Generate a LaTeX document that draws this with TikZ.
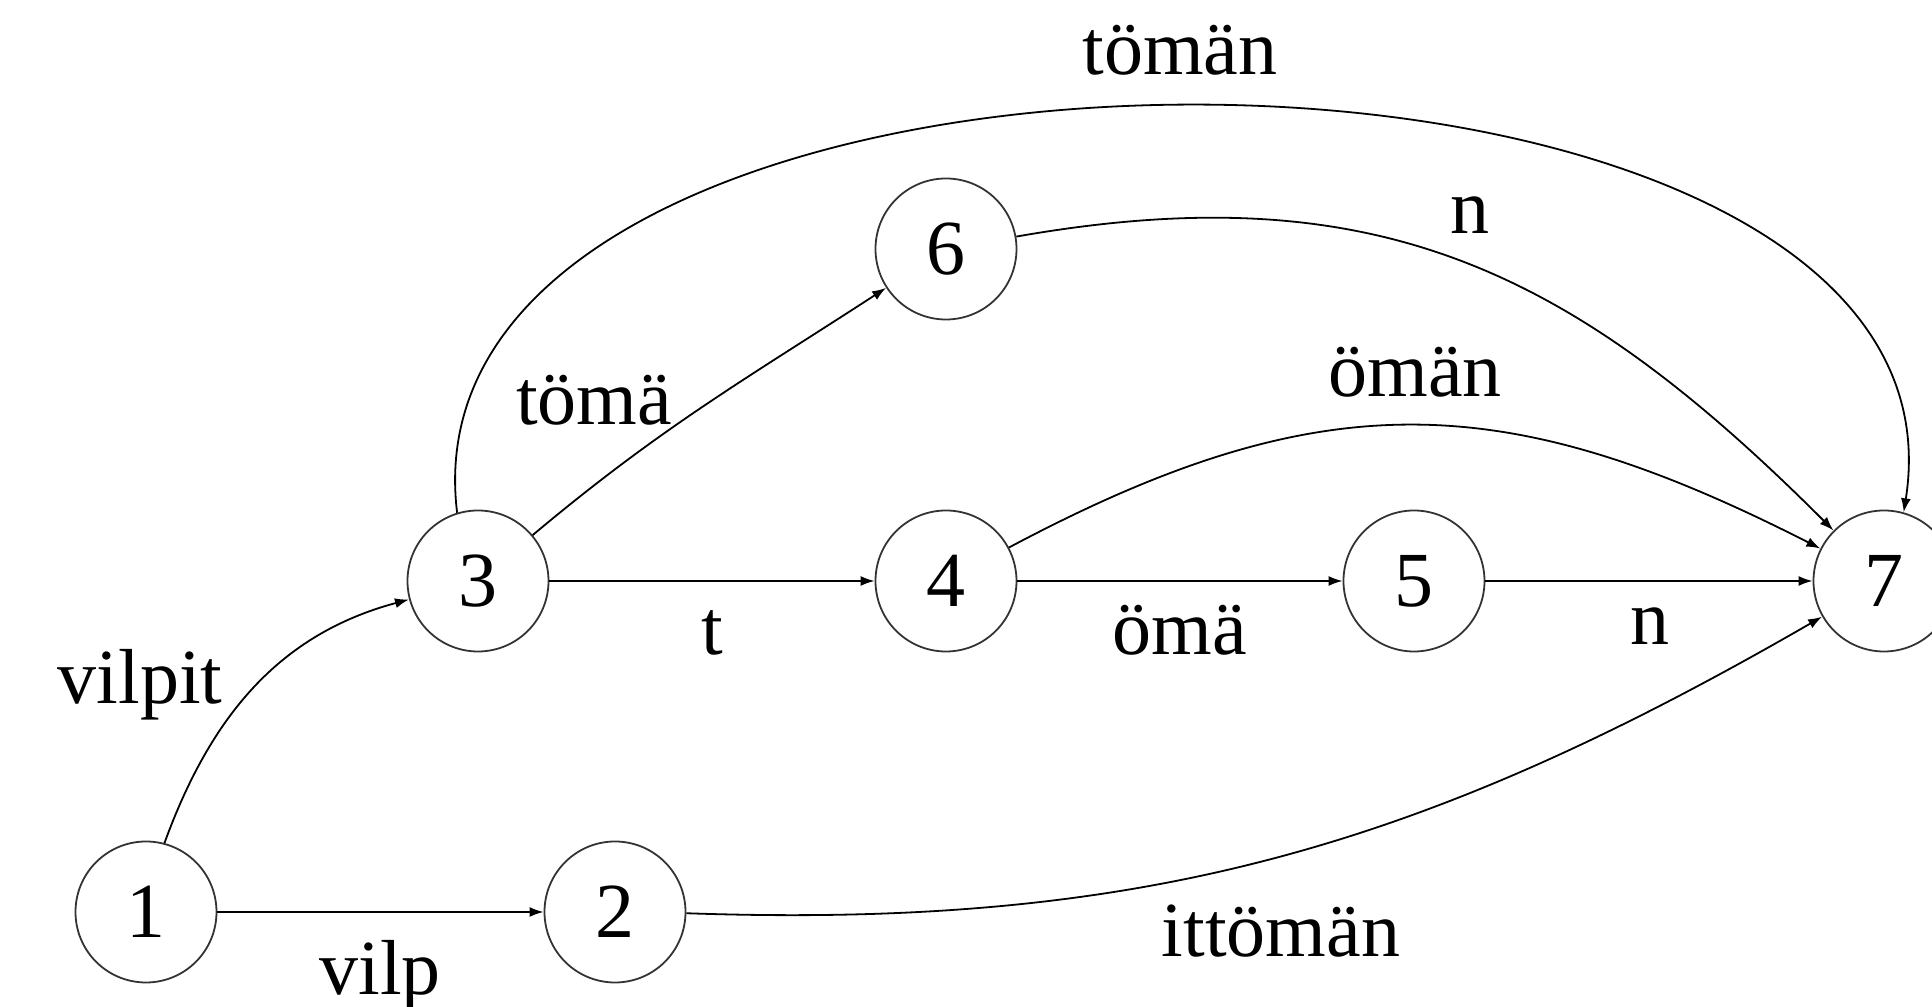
\documentclass[tikz,border=0pt]{standalone}
\usepackage{fontspec}
\setmainfont{Liberation Serif}
\usetikzlibrary{arrows.meta}
\begin{document}
\begin{tikzpicture}[x=0.25pt,y=0.25pt,
  state/.style={circle,draw=black!80,line width=0.45pt,minimum size=35.25pt,inner sep=0pt,font=\fontsize{19.5}{22}\selectfont},
  lbl/.style={anchor=base,font=\fontsize{19.5}{22}\selectfont,inner sep=0pt},
  edge/.style={line width=0.45pt,-{Latex[length=3.5pt,width=2.5pt]}}]
\clip (0,0) rectangle (1932,1007);
\node[state] (n1) at (146,95) {1};
\node[state] (n2) at (615,95) {2};
\node[state] (n3) at (478,426) {3};
\node[state] (n4) at (946,426) {4};
\node[state] (n5) at (1414,426) {5};
\node[state] (n6) at (946,758) {6};
\node[state] (n7) at (1884,426) {7};
\draw[edge] (n1.75) to[out=70,in=195] (n3);
\draw[edge] (n1) -- (n2);
\draw[edge] (n2.-1) to[out=-2,in=210] (n7);
\draw[edge] (n3) to[out=40,in=213] (n6);
\draw[edge] (n3) -- (n4);
\draw[edge] (n4) -- (n5);
\draw[edge] (n5) -- (n7);
\draw[edge] (n3.107) to[out=97,in=81,looseness=0.97] (n7.74);
\draw[edge] (n6) to[out=10,in=135,looseness=1.08] (n7);
\draw[edge] (n4) to[out=28,in=153,looseness=1.12] (n7);
\node[lbl] (l37) at (1180,932) {tömän};
\node[lbl] (l67) at (1470,773) {n};
\node[lbl] (l47) at (1415,610) {ömän};
\node[lbl] (l36) at (594,582) {tömä};
\node[lbl] (l34) at (712,352) {t};
\node[lbl] (l45) at (1180,352) {ömä};
\node[lbl] (l57) at (1650,362) {n};
\node[lbl] (l13) at (140,303) {vilpit};
\node[lbl] (l12) at (380,12) {vilp};
\node[lbl] (l27) at (1281,50) {ittömän};
\end{tikzpicture}
\end{document}
